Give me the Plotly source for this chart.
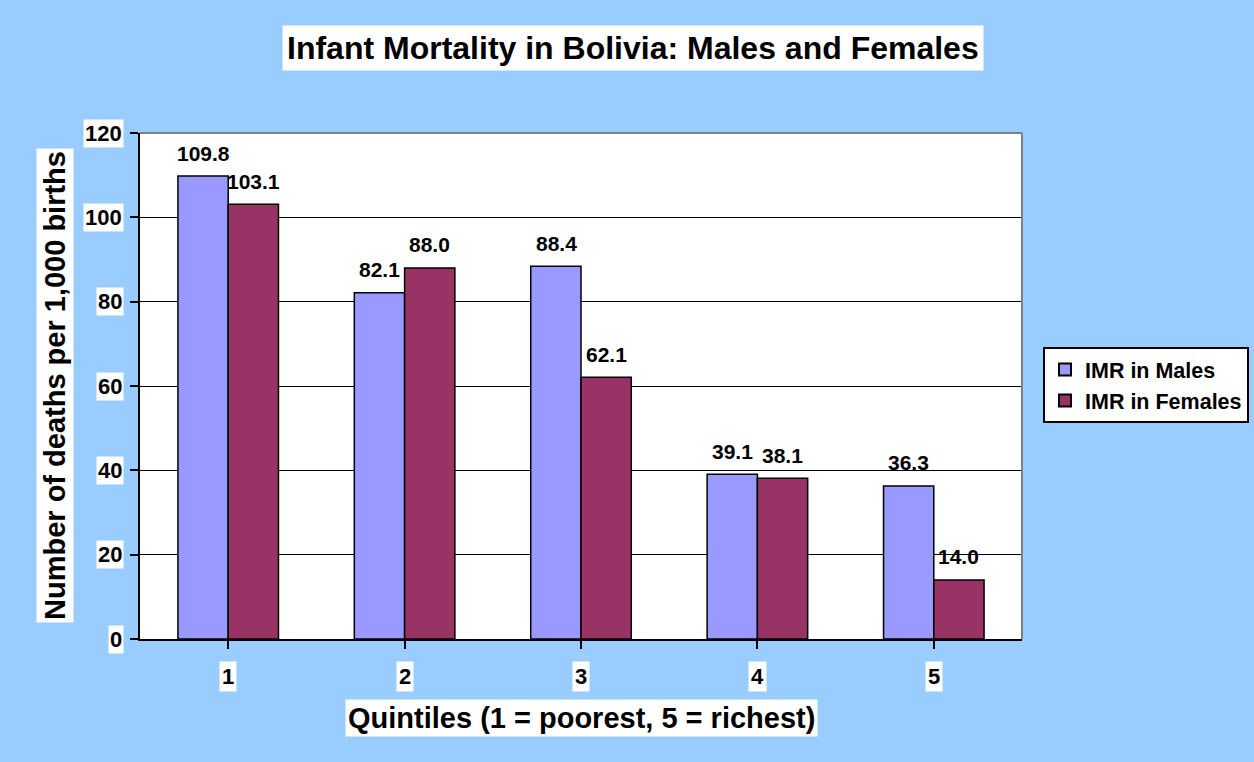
import plotly.graph_objects as go

categories = ["1", "2", "3", "4", "5"]
males = [109.8, 82.1, 88.4, 39.1, 36.3]
females = [103.1, 88.0, 62.1, 38.1, 14.0]
y_ticks = [0, 20, 40, 60, 80, 100, 120]
series_names = ["IMR in Males", "IMR in Females"]
title_text = "Infant Mortality in Bolivia: Males and Females"
x_title = "Quintiles (1 = poorest, 5 = richest)"
y_title = "Number of deaths per 1,000 births"

FONT = "Liberation Sans, Arial, sans-serif"
BG = "#99CCFF"
C_M = "#9999FF"
C_F = "#993366"

xs = list(range(len(categories)))

fig = go.Figure()
fig.add_trace(go.Bar(x=xs, y=males, name=series_names[0],
                     marker=dict(color=C_M, line=dict(color="black", width=1.5))))
fig.add_trace(go.Bar(x=xs, y=females, name=series_names[1],
                     marker=dict(color=C_F, line=dict(color="black", width=1.5))))

W, H = 1254, 762
L, R, T, B = 140, 232, 133, 123
PW, PH = W - L - R, H - T - B

bold = dict(family=FONT, color="black", weight="bold")

fig.update_layout(
    width=W, height=H,
    margin=dict(l=L, r=R, t=T, b=B, autoexpand=False),
    paper_bgcolor=BG, plot_bgcolor="white",
    barmode="group", bargap=0.43, bargroupgap=0,
    font=dict(family=FONT, size=16, color="black"),
    showlegend=True,
    legend=dict(x=(1043 - L) / PW, y=(H - B - 385) / PH, xanchor="left", yanchor="middle",
                bgcolor="white", bordercolor="black", borderwidth=2,
                font=dict(size=21.5, **bold),
                itemsizing="constant", tracegroupgap=4),
    xaxis=dict(range=[-0.5, 4.5], showticklabels=False, tickvals=xs,
               ticks="outside", tickson="boundaries", ticklen=8, tickwidth=2,
               tickcolor="black", showline=True, linecolor="black", linewidth=2,
               showgrid=False, zeroline=False, fixedrange=True),
    yaxis=dict(range=[0, 120], tickvals=y_ticks, showticklabels=False,
               ticks="outside", ticklen=8, tickwidth=2, tickcolor="black",
               showline=True, linecolor="black", linewidth=2,
               showgrid=True, gridcolor="black", gridwidth=1,
               zeroline=False, fixedrange=True),
)

# gray top and right borders of the plot area
fig.add_shape(type="line", xref="paper", yref="paper", x0=0, x1=1, y0=1, y1=1,
              line=dict(color="#808080", width=2), layer="above")
fig.add_shape(type="line", xref="paper", yref="paper", x0=1, x1=1, y0=0, y1=1,
              line=dict(color="#808080", width=2), layer="above")

# value labels
for vals, shift in ((males, -25), (females, 25)):
    for i, v in enumerate(vals):
        fig.add_annotation(x=i, y=v, xshift=shift, yshift=23, text=f"{v:.1f}",
                           showarrow=False, yanchor="middle", xanchor="center",
                           font=dict(size=21, **bold))

# y tick labels with white background
for t in y_ticks:
    fig.add_annotation(x=0, xref="paper", xshift=-16, y=t, yref="y", text=str(t),
                       showarrow=False, xanchor="right", yanchor="middle",
                       bgcolor="white", borderpad=1, font=dict(size=22, **bold))

# x tick labels with white background
for i, c in enumerate(categories):
    fig.add_annotation(x=i, y=0, yref="paper", yshift=-37, text=c,
                       showarrow=False, xanchor="center", yanchor="middle",
                       bgcolor="white", borderpad=2, font=dict(size=22, **bold))

# title
fig.add_annotation(xref="paper", yref="paper",
                   x=(633 - L) / PW, y=(H - B - 48) / PH,
                   text=title_text, showarrow=False, xanchor="center", yanchor="middle",
                   bgcolor="white", borderpad=4, font=dict(size=32, **bold))

# axis titles
fig.add_annotation(xref="paper", yref="paper", x=0.5, y=(H - B - 718) / PH,
                   text=x_title, showarrow=False, xanchor="center", yanchor="middle",
                   bgcolor="white", borderpad=2, font=dict(size=29, **bold))
fig.add_annotation(xref="paper", yref="paper", x=(55 - L) / PW, y=0.5,
                   text=y_title, textangle=-90, showarrow=False,
                   xanchor="center", yanchor="middle",
                   bgcolor="white", borderpad=2, font=dict(size=29, **bold))

fig.write_html("out.html", config={"displayModeBar": False},
               post_script="document.body.style.margin='0';")
